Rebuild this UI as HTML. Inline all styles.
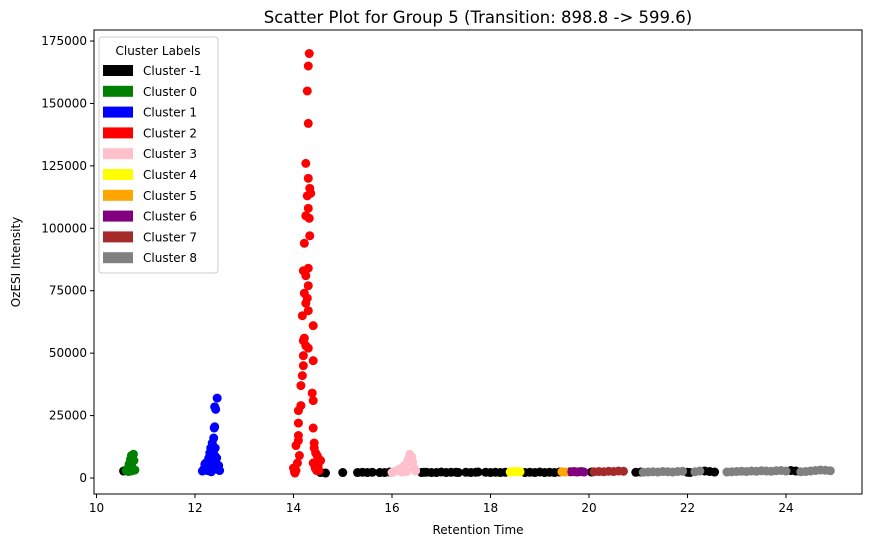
<!DOCTYPE html>
<html><head><meta charset="utf-8"><style>
body{margin:0;background:#fff;font-family:"Liberation Sans","DejaVu Sans",sans-serif}
svg text{font-family:"DejaVu Sans","Liberation Sans",sans-serif}
</style></head><body>
<svg id="c" width="876" height="547" xmlns="http://www.w3.org/2000/svg"></svg>
<script>
const xTicks=[10,12,14,16,18,20,22,24];
const yTicks=[0,25000,50000,75000,100000,125000,150000,175000];
const clusterNames=["Cluster -1","Cluster 0","Cluster 1","Cluster 2","Cluster 3","Cluster 4","Cluster 5","Cluster 6","Cluster 7","Cluster 8"];
const clusterColors=["black","green","blue","red","pink","yellow","orange","purple","brown","gray"];
const blackX=[10.55,14.55,14.65,15.0,15.3,15.4,15.5,15.6,15.75,15.85,15.95,16.6,16.65,16.7,16.8,16.9,17.0,17.1,17.2,17.3,17.35,17.5,17.6,17.7,17.75,17.9,18.0,18.1,18.2,18.3,18.7,18.8,18.9,19.0,19.1,19.2,19.3,19.4,19.62,20.05,20.95,21.05,22.0,22.05,22.35,22.45,22.55,24.1,24.2];
const blackY=[2800,2200,2000,2200,2200,2300,2200,2300,2200,2200,2400,2200,2300,2300,2200,2200,2400,2200,2300,2300,2200,2300,2200,2300,2400,2300,2200,2300,2200,2300,2200,2300,2200,2400,2200,2300,2200,2400,2500,2400,2300,2400,2300,2200,2800,2600,2400,3000,2800];
const greenX=[10.6,10.62,10.65,10.68,10.7,10.72,10.73,10.75,10.76,10.78,10.7,10.72,10.74,10.66,10.69,10.71];
const greenY=[3000,3500,2600,4000,5000,6500,8000,9500,7000,3200,2800,4500,3000,5500,7500,9000];
const blueX=[12.15,12.2,12.22,12.25,12.28,12.3,12.32,12.35,12.38,12.4,12.42,12.45,12.48,12.5,12.35,12.4,12.38,12.42,12.3,12.45,12.25,12.33,12.4,12.18,12.2,12.27,12.36,12.44,12.47,12.41,12.39];
const blueY=[2800,4000,6000,3000,8000,10000,12000,14000,16000,20500,27500,32000,5000,3000,11000,9000,7000,4500,6500,3500,5000,2500,28500,3500,5500,7000,9500,8000,4000,12000,20000];
const redX=[14.32,14.3,14.28,14.3,14.25,14.3,14.33,14.28,14.35,14.3,14.32,14.25,14.33,14.22,14.3,14.2,14.25,14.3,14.22,14.28,14.25,14.3,14.18,14.4,14.22,14.2,14.25,14.3,14.2,14.4,14.2,14.18,14.38,14.15,14.4,14.15,14.1,14.1,14.4,14.1,14.05,14.42,14.45,14.48,14.5,14.55,14.0,14.05,14.45,14.4,14.52,14.02,14.08,14.12,14.1,14.42,14.44,14.47,14.5,14.03];
const redY=[170000,165000,155000,142000,126000,120000,116000,113000,114000,108000,104000,105000,97000,94000,84000,83000,81000,77000,74000,72000,70000,67000,65000,61000,56000,55000,53000,52000,49000,47000,45000,41000,34000,37000,31000,29000,27000,22000,20000,17000,13000,12000,10000,9000,8000,7000,4000,3000,5000,6000,3000,2500,6000,9000,15000,14000,4000,3000,5000,2000];
const pinkX=[16.0,16.05,16.1,16.15,16.2,16.25,16.3,16.33,16.36,16.4,16.42,16.45,16.48,16.2,16.3];
const pinkY=[2200,2600,3000,3500,4000,5000,6000,7500,9500,8500,6500,4000,2800,2400,2600];
const yellowX=[18.4,18.45,18.5,18.55,18.6];
const yellowY=[2400,2600,2500,2700,2500];
const orangeX=[19.45,19.52];
const orangeY=[2500,2400];
const purpleX=[19.65,19.7,19.75,19.8,19.85,19.9];
const purpleY=[2500,2600,2400,2500,2600,2400];
const brownX=[20.1,20.2,20.3,20.4,20.5,20.6,20.7];
const brownY=[2500,2600,2500,2700,2600,2800,2700];
const grayX=[21.1,21.2,21.3,21.4,21.5,21.6,21.7,21.8,21.9,22.15,22.25,22.8,22.9,23.0,23.1,23.2,23.3,23.4,23.5,23.6,23.7,23.8,23.9,24.0,24.3,24.4,24.5,24.6,24.7,24.8,24.9];
const grayY=[2300,2400,2500,2400,2600,2500,2400,2600,2700,2500,2800,2400,2500,2600,2700,2600,2800,2700,2900,2800,2700,2900,3000,2800,2500,2600,2800,3000,3200,3100,2900];
const seriesX=[blackX,greenX,blueX,redX,pinkX,yellowX,orangeX,purpleX,brownX,grayX];
const seriesY=[blackY,greenY,blueY,redY,pinkY,yellowY,orangeY,purpleY,brownY,grayY];

const NS="http://www.w3.org/2000/svg",svg=document.getElementById('c');
const L=94,R=862,T=30,B=494;
const sx=v=>96.5+(v-10)*49.25, sy=v=>478-v*0.002497;
function el(t,a,p){const e=document.createElementNS(NS,t);for(const k in a)e.setAttribute(k,a[k]);(p||svg).appendChild(e);return e;}
const pts=el('g',{});


seriesX.forEach((xs,i)=>{xs.forEach((x,j)=>{const c=el('circle',{cx:sx(x),cy:sy(seriesY[i][j]),r:4.5,fill:clusterColors[i]},pts);

});});
const fr=el('rect',{x:L,y:T,width:R-L,height:B-T,fill:'none',stroke:'#000','stroke-width':1});


xTicks.forEach(t=>{const x=sx(t);el('line',{x1:x,x2:x,y1:B,y2:B+4,stroke:'#000'});
const tx=el('text',{x:x,y:B+18,'text-anchor':'middle','font-size':12});tx.textContent=t;

});
yTicks.forEach(t=>{const y=sy(t);el('line',{x1:L-4,x2:L,y1:y,y2:y,stroke:'#000'});
const tx=el('text',{x:L-7,y:y+4,'text-anchor':'end','font-size':12});tx.textContent=t;

});
const tt=el('text',{x:478,y:23,'text-anchor':'middle','font-size':16.5});tt.textContent='Scatter Plot for Group 5 (Transition: 898.8 -> 599.6)';


const xl=el('text',{x:478,y:534,'text-anchor':'middle','font-size':12});xl.textContent='Retention Time';


const yl=el('text',{x:0,y:0,'text-anchor':'middle','font-size':12,transform:'translate(20,262) rotate(-90)'});yl.textContent='OzESI Intensity';


const lg=el('g',{});


el('rect',{x:99,y:37,width:119,height:236,rx:3,fill:'#fff','fill-opacity':0.8,stroke:'#ccc'},lg);
const lt=el('text',{x:158,y:55,'text-anchor':'middle','font-size':12},lg);lt.textContent='Cluster Labels';
clusterNames.forEach((n,i)=>{const y=65+i*20.8;
const sw=el('rect',{x:103,y:y,width:30,height:11,fill:clusterColors[i]},lg);


const t=el('text',{x:143,y:y+10,'font-size':12},lg);t.textContent=n;

});
</script>
</body></html>
